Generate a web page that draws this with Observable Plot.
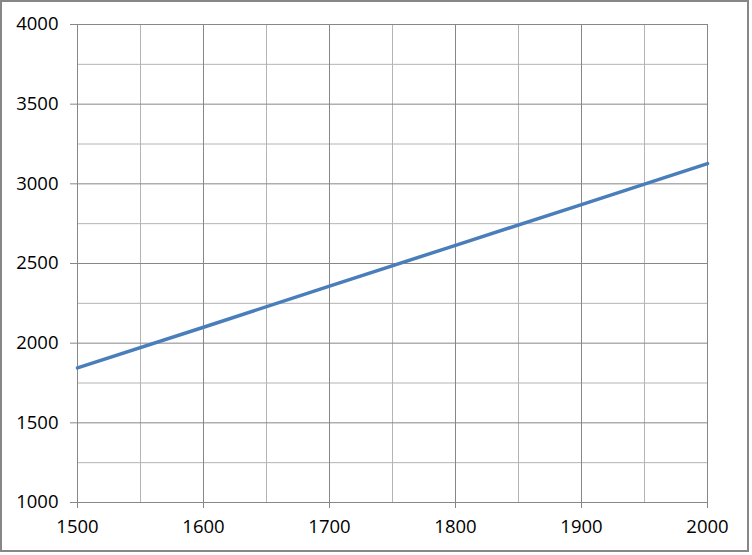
<!DOCTYPE html>
<html><head><meta charset="utf-8">
<script src="https://cdn.jsdelivr.net/npm/d3@7"></script>
<script src="https://cdn.jsdelivr.net/npm/@observablehq/plot@0.6"></script>
<style>
body{margin:0;background:#fff;}
#wrap{position:relative;width:752px;height:555px;}
#border{position:absolute;left:0;top:0;width:749px;height:552px;box-sizing:border-box;border:2px solid #878787;pointer-events:none;}
</style></head>
<body><div id="wrap"><div id="border"></div></div>
<script>
const years = [1500, 1600, 1700, 1800, 1900, 2000];
const values = [1845, 2100, 2358, 2614, 2870, 3127];
const xMajor = [1500, 1600, 1700, 1800, 1900, 2000];
const xMinor = [1550, 1650, 1750, 1850, 1950];
const yMajor = [1000, 1500, 2000, 2500, 3000, 3500, 4000];
const yMinor = [1250, 1750, 2250, 2750, 3250, 3750];

const data = years.map((y, i) => ({year: y, value: values[i]}));

const chart = Plot.plot({
  width: 752, height: 555,
  marginLeft: 77, marginRight: 45, marginTop: 24, marginBottom: 53,
  style: {fontFamily: "'Open Sans', sans-serif", fontSize: "18.5px", color: "#000", background: "transparent"},
  x: {domain: [1500, 2000]},
  y: {domain: [1000, 4000]},
  marks: [
    Plot.gridX(xMinor, {stroke: "#b4b4b4", strokeOpacity: 1}),
    Plot.gridY(yMinor, {stroke: "#b4b4b4", strokeOpacity: 1}),
    Plot.gridX(xMajor, {stroke: "#878787", strokeOpacity: 1}),
    Plot.gridY(yMajor, {stroke: "#878787", strokeOpacity: 1}),
    Plot.axisY(yMajor, {tickSize: 7, tickPadding: 12, stroke: "#878787", label: null, tickFormat: d => String(d), fill: "#000"}),
    Plot.axisX(xMajor, {tickSize: 6, tickPadding: 11, stroke: "#878787", label: null, tickFormat: d => String(d), fill: "#000"}),
    Plot.line(data, {x: "year", y: "value", stroke: "#4a7ebb", strokeWidth: 3.5})
  ]
});
document.getElementById("wrap").prepend(chart);
</script>
</body></html>
